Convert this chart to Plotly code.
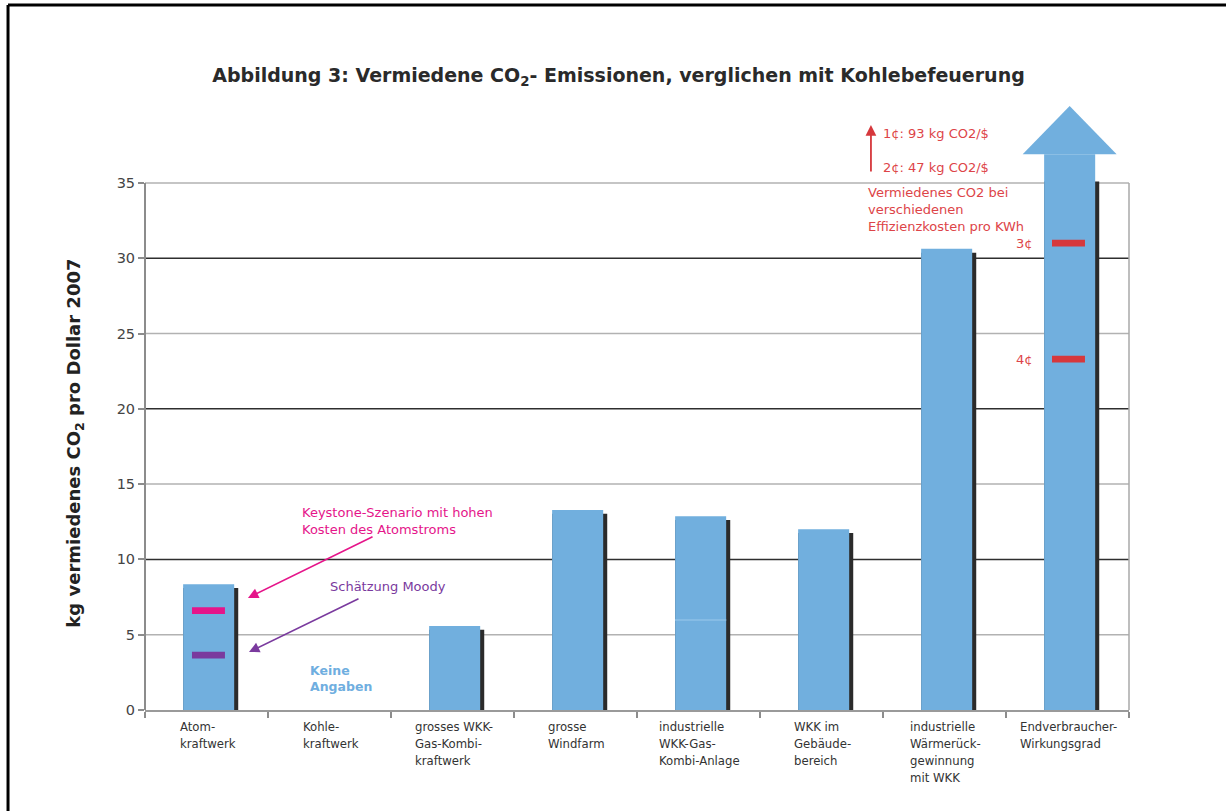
import plotly.graph_objects as go

# ---------------- data ----------------
categories = [
    "Atom-<br>kraftwerk",
    "Kohle-<br>kraftwerk",
    "grosses WKK-<br>Gas-Kombi-<br>kraftwerk",
    "grosse<br>Windfarm",
    "industrielle<br>WKK-Gas-<br>Kombi-Anlage",
    "WKK im<br>Gebäude-<br>bereich",
    "industrielle<br>Wärmerück-<br>gewinnung<br>mit WKK",
    "Endverbraucher-<br>Wirkungsgrad",
]
values = [8.35, None, 5.58, 13.28, 12.86, 12.0, 30.62, 36.9]
wkk_gas_lower_segment = 6.0           # faint segment border inside "industrielle WKK-Gas"
keystone_atom = 6.6                    # Keystone scenario (pink dash)
moody_atom = 3.65                      # Moody estimate (purple dash)
eff_cost_labels = ["3¢", "4¢"]
eff_cost_values = [31.0, 23.3]
y_ticks = [0, 5, 10, 15, 20, 25, 30, 35]
axis_max = 35

# ---------------- styles ----------------
BLUE = "#71AFDE"
SHADOW = "#2b2b2b"
PINK = "#E5158A"
PURPLE = "#7A3A9E"
RED = "#D6383C"
RED_TXT = "#DD4448"
FONT = "DejaVu Sans, Verdana, sans-serif"
NARROW = "DejaVu Sans Condensed, Liberation Sans Narrow, Liberation Sans, Arial, sans-serif"

BAR_W = 0.415
BAR_OFF = -0.19
SHADOW_W = 0.448

shadow_vals = [None if v is None else min(v - 0.25, axis_max + 0.1) for v in values]

fig = go.Figure()

fig.add_trace(go.Bar(x=categories, y=shadow_vals, width=SHADOW_W, offset=BAR_OFF,
                     marker=dict(color=SHADOW, line=dict(width=0)), hoverinfo="skip"))
fig.add_trace(go.Bar(x=categories, y=values, width=BAR_W, offset=BAR_OFF,
                     marker=dict(color=BLUE, line=dict(width=0)), hoverinfo="skip"))
fig.add_trace(go.Bar(x=[categories[4]], y=[0.09], base=[wkk_gas_lower_segment - 0.045],
                     width=BAR_W, offset=BAR_OFF,
                     marker=dict(color="#86BCE5", line=dict(width=0)), hoverinfo="skip"))

DASH_W = 0.268
DASH_H = 0.45
fig.add_trace(go.Bar(x=[categories[0]], y=[DASH_H], base=[keystone_atom - DASH_H / 2],
                     width=DASH_W, offset=0.016 - DASH_W / 2,
                     marker=dict(color=PINK, line=dict(width=0)), hoverinfo="skip"))
fig.add_trace(go.Bar(x=[categories[0]], y=[DASH_H], base=[moody_atom - DASH_H / 2],
                     width=DASH_W, offset=0.016 - DASH_W / 2,
                     marker=dict(color=PURPLE, line=dict(width=0)), hoverinfo="skip"))
fig.add_trace(go.Bar(x=[categories[7]] * len(eff_cost_values), y=[DASH_H] * len(eff_cost_values),
                     base=[v - DASH_H / 2 for v in eff_cost_values],
                     width=DASH_W, offset=0.008 - DASH_W / 2,
                     marker=dict(color=RED, line=dict(width=0)), hoverinfo="skip"))

shapes = []
# gridlines: dark every 10, light otherwise
for v in y_ticks:
    if v == 0:
        continue
    dark = (v % 10 == 0)
    shapes.append(dict(type="line", xref="paper", yref="y", x0=0, x1=1, y0=v, y1=v,
                       line=dict(color="#2e2e2e" if dark else "#b2b2b2", width=1.5),
                       layer="below"))
# left axis line and right border, only up to 35
shapes.append(dict(type="line", xref="paper", yref="y", x0=0, x1=0, y0=0, y1=axis_max,
                   line=dict(color="#8c8c8c", width=2)))
shapes.append(dict(type="line", xref="paper", yref="y", x0=1, x1=1, y0=0, y1=axis_max,
                   line=dict(color="#a8a8a8", width=1.5)))
# arrowhead on top of the last bar
c = 7 + BAR_OFF + BAR_W / 2
b = values[7]
shapes.append(dict(type="path", xref="x", yref="y",
                   path=f"M {c - 0.382},{b} L {c + 0.382},{b} L {c},{b + 3.2} Z",
                   fillcolor=BLUE, line=dict(width=0), layer="above"))
# page frame (top and left)
shapes.append(dict(type="line", xref="paper", yref="paper", x0=-0.1392, x1=1.1, y0=1.1408, y1=1.1408,
                   line=dict(color="black", width=3)))
shapes.append(dict(type="line", xref="paper", yref="paper", x0=-0.1392, x1=-0.1392, y0=1.1408, y1=-0.2,
                   line=dict(color="black", width=3)))

annotations = []
# category labels (block centred, lines left aligned)
for i, lab in enumerate(categories):
    annotations.append(dict(x=i + 0.01, y=-0.011, xref="x", yref="paper", text=lab, showarrow=False,
                            xanchor="center", yanchor="top", align="left",
                            font=dict(family=NARROW, size=13, color="#333333")))
# y-axis title
annotations.append(dict(x=-0.0711, y=0.431, xref="paper", yref="paper",
                        text="<b>kg vermiedenes CO<sub>2</sub> pro Dollar 2007</b>",
                        textangle=-90, showarrow=False, xanchor="center", yanchor="middle",
                        font=dict(family=FONT, size=18, color="#222222")))
# Keystone
annotations.append(dict(x=0.76, y=12.55, xref="x", yref="y", xanchor="left", yanchor="middle",
                        align="left", showarrow=False,
                        text="Keystone-Szenario mit hohen<br>Kosten des Atomstroms",
                        font=dict(family=FONT, size=13, color=PINK)))
annotations.append(dict(x=0.337, y=7.44, ax=1.362, ay=11.55, xref="x", yref="y", axref="x", ayref="y",
                        text="", showarrow=True, arrowhead=2, arrowsize=1.3, arrowwidth=1.6,
                        arrowcolor=PINK))
# Moody
annotations.append(dict(x=0.988, y=8.17, xref="x", yref="y", xanchor="left", yanchor="middle",
                        showarrow=False, text="Schätzung Moody",
                        font=dict(family=FONT, size=13, color=PURPLE)))
annotations.append(dict(x=0.3455, y=3.85, ax=1.248, ay=7.44, xref="x", yref="y", axref="x", ayref="y",
                        text="", showarrow=True, arrowhead=2, arrowsize=1.3, arrowwidth=1.6,
                        arrowcolor=PURPLE))
# Keine Angaben
annotations.append(dict(x=0.825, y=2.09, xref="x", yref="y", xanchor="left", yanchor="middle",
                        align="left", showarrow=False, text="<b>Keine<br>Angaben</b>",
                        font=dict(family=FONT, size=12.5, color="#6FAEE0")))
# red annotations
annotations.append(dict(x=5.402, y=38.85, ax=5.402, ay=35.66, xref="x", yref="y", axref="x", ayref="y",
                        text="", showarrow=True, arrowhead=2, arrowsize=1.2, arrowwidth=1.8,
                        arrowcolor=RED))
annotations.append(dict(x=5.484, y=38.31, xref="x", yref="y", xanchor="left", yanchor="middle",
                        showarrow=False, text="1¢: 93 kg CO2/$",
                        font=dict(family=FONT, size=13, color=RED_TXT)))
annotations.append(dict(x=5.484, y=35.99, xref="x", yref="y", xanchor="left", yanchor="middle",
                        showarrow=False, text="2¢: 47 kg CO2/$",
                        font=dict(family=FONT, size=13, color=RED_TXT)))
annotations.append(dict(x=5.362, y=33.23, xref="x", yref="y", xanchor="left", yanchor="middle",
                        align="left", showarrow=False,
                        text="Vermiedenes CO2 bei<br>verschiedenen<br>Effizienzkosten pro KWh",
                        font=dict(family=FONT, size=13, color=RED_TXT)))
for lab, v in zip(eff_cost_labels, eff_cost_values):
    annotations.append(dict(x=6.736, y=v, xref="x", yref="y", xanchor="right", yanchor="middle",
                            showarrow=False, text=lab,
                            font=dict(family=FONT, size=13, color=RED_TXT)))

fig.update_layout(
    width=1226, height=811,
    margin=dict(l=145, r=97, t=92, b=101, pad=0),
    paper_bgcolor="white", plot_bgcolor="white",
    barmode="overlay", showlegend=False,
    title=dict(text="<b>Abbildung 3: Vermiedene CO<sub>2</sub>- Emissionen, verglichen mit Kohlebefeuerung</b>",
               x=0.5045, xref="container", xanchor="center",
               y=1 - 75 / 811, yref="container", yanchor="middle",
               font=dict(family=FONT, size=19, color="#2a2a2a")),
    xaxis=dict(type="category", range=[-0.5, 7.5], showticklabels=False, ticks="outside",
               tickson="boundaries", ticklen=6, tickcolor="#8c8c8c", tickwidth=1.5,
               showline=True, linecolor="#9a9a9a", linewidth=2, showgrid=False, zeroline=False,
               fixedrange=True),
    yaxis=dict(range=[0, 618 / 15.06], tickvals=y_ticks, ticks="outside", ticklen=6,
               tickcolor="#8c8c8c", tickwidth=1.5, showline=False, zeroline=False,
               showgrid=False,
               tickfont=dict(family=FONT, size=14.5, color="#444444"), fixedrange=True),
    shapes=shapes, annotations=annotations,
)

fig.write_html("out.html", config={"displayModeBar": False},
               post_script="document.body.style.margin='0px';")
